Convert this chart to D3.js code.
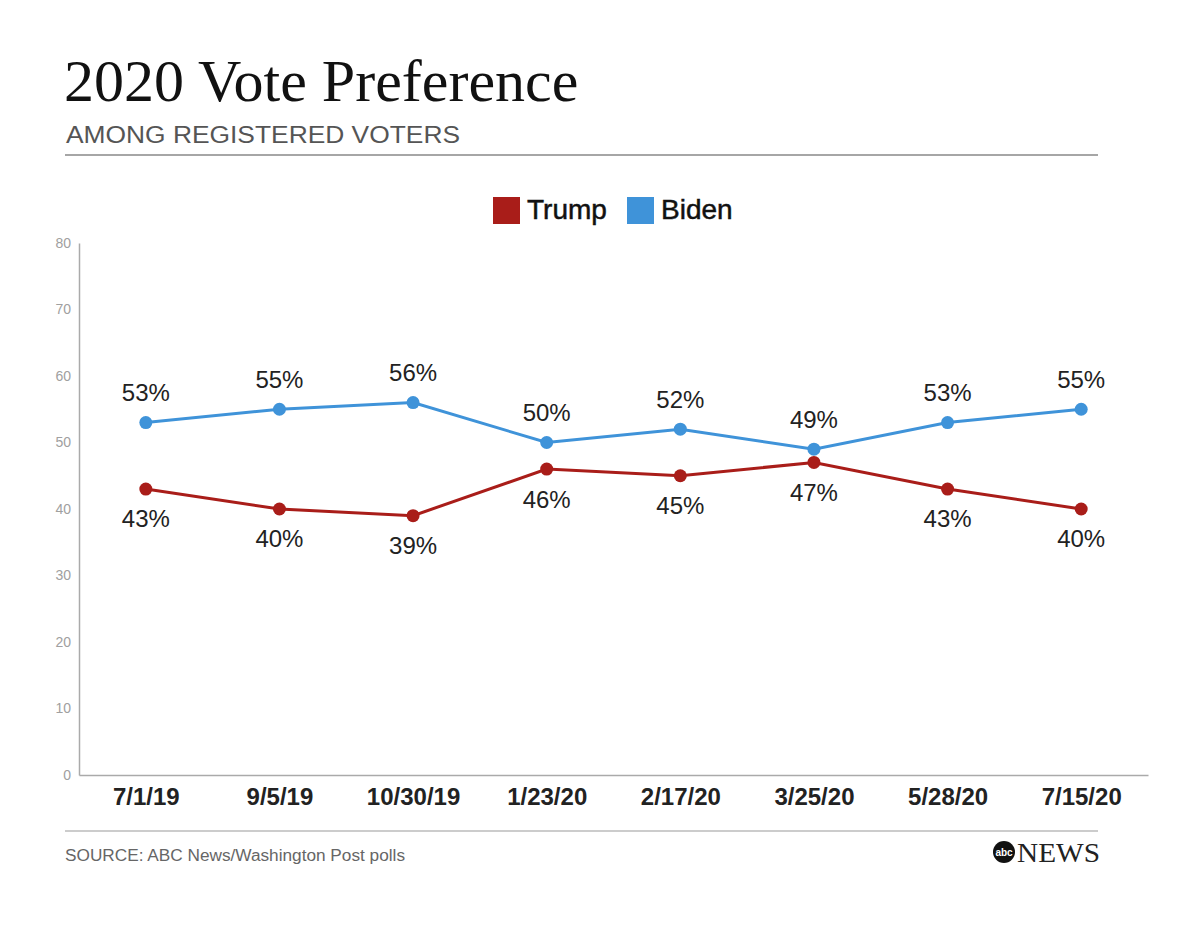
<!DOCTYPE html>
<html>
<head>
<meta charset="utf-8">
<script src="https://cdn.jsdelivr.net/npm/d3@7"></script>
<style>
  body { margin: 0; background: #fff; }
</style>
</head>
<body>
<script>
// chart data
var dates = ["7/1/19", "9/5/19", "10/30/19", "1/23/20", "2/17/20", "3/25/20", "5/28/20", "7/15/20"];
var trump = [43, 40, 39, 46, 45, 47, 43, 40];
var biden = [53, 55, 56, 50, 52, 49, 53, 55];
var yTicks = [0, 10, 20, 30, 40, 50, 60, 70, 80];

var W = 1199;
var H = 931;
var RED = "#a91d19";
var BLUE = "#3f93d9";
var SANS = "Liberation Sans, Arial, sans-serif";

var svg = d3.select("body").append("svg")
  .attr("width", W)
  .attr("height", H);

// title block
svg.append("text")
  .attr("x", 64).attr("y", 101)
  .attr("font-family", "Liberation Serif, Times New Roman, serif")
  .attr("font-size", 60)
  .attr("fill", "#111")
  .text("2020 Vote Preference");

svg.append("text")
  .attr("x", 66).attr("y", 143)
  .attr("font-family", SANS)
  .attr("font-size", 23)
  .attr("textLength", 394)
  .attr("lengthAdjust", "spacingAndGlyphs")
  .attr("fill", "#555")
  .text("AMONG REGISTERED VOTERS");

svg.append("line")
  .attr("x1", 65).attr("x2", 1098)
  .attr("y1", 155).attr("y2", 155)
  .attr("stroke", "#888").attr("stroke-width", 1.5);

// legend
var legend = [{name: "Trump", color: RED, x: 493}, {name: "Biden", color: BLUE, x: 627}];
var lg = svg.selectAll(".legend").data(legend).enter().append("g")
  .attr("class", "legend")
  .attr("transform", function(d) { return "translate(" + d.x + ",197)"; });
lg.append("rect")
  .attr("width", 27).attr("height", 27)
  .attr("fill", function(d) { return d.color; });
lg.append("text")
  .attr("x", 34).attr("y", 22)
  .attr("font-family", SANS)
  .attr("font-size", 28)
  .attr("fill", "#111")
  .attr("stroke", "#111").attr("stroke-width", 0.5)
  .text(function(d) { return d.name; });

// scales
var xScale = d3.scalePoint()
  .domain(dates)
  .range([79, 1148])
  .padding(0.5);
var yScale = d3.scaleLinear()
  .domain([0, 80])
  .range([775, 243]);

// y axis
var yAxis = d3.axisLeft(yScale).tickValues(yTicks).tickSize(0).tickPadding(8);
var gy = svg.append("g")
  .attr("transform", "translate(79,0)")
  .call(yAxis);
gy.select(".domain").attr("stroke", "#aaa").attr("stroke-width", 1.5);
gy.selectAll("text")
  .attr("font-family", SANS)
  .attr("font-size", 14)
  .attr("fill", "#a0a0a0");

// x axis
var xAxis = d3.axisBottom(xScale).tickSize(0).tickPadding(13).tickSizeOuter(0);
var gx = svg.append("g")
  .attr("transform", "translate(0,775)")
  .call(xAxis);
gx.select(".domain").attr("stroke", "#aaa").attr("stroke-width", 1.5);
gx.selectAll("text")
  .attr("font-family", SANS)
  .attr("font-size", 24)
  .attr("font-weight", "bold")
  .attr("fill", "#222");

// series
var series = [
  {name: "Biden", values: biden, color: BLUE, dy: -30},
  {name: "Trump", values: trump, color: RED, dy: 30}
];

var line = d3.line()
  .x(function(d, i) { return xScale(dates[i]); })
  .y(function(d) { return yScale(d); });

series.forEach(function(s) {
  svg.append("path")
    .datum(s.values)
    .attr("d", line)
    .attr("fill", "none")
    .attr("stroke", s.color)
    .attr("stroke-width", 3);

  svg.selectAll(".dot-" + s.name)
    .data(s.values)
    .enter().append("circle")
    .attr("cx", function(d, i) { return xScale(dates[i]); })
    .attr("cy", function(d) { return yScale(d); })
    .attr("r", 6.5)
    .attr("fill", s.color);

  svg.selectAll(".lab-" + s.name)
    .data(s.values)
    .enter().append("text")
    .attr("x", function(d, i) { return xScale(dates[i]); })
    .attr("y", function(d) { return yScale(d) + s.dy; })
    .attr("dy", "0.35em")
    .attr("text-anchor", "middle")
    .attr("font-family", SANS)
    .attr("font-size", 24)
    .attr("fill", "#222")
    .text(function(d) { return d + "%"; });
});

// footer
svg.append("line")
  .attr("x1", 65).attr("x2", 1098)
  .attr("y1", 831).attr("y2", 831)
  .attr("stroke", "#bbb").attr("stroke-width", 1.5);

svg.append("text")
  .attr("x", 65).attr("y", 861)
  .attr("font-family", SANS)
  .attr("font-size", 16)
  .attr("textLength", 340)
  .attr("lengthAdjust", "spacingAndGlyphs")
  .attr("fill", "#666")
  .text("SOURCE: ABC News/Washington Post polls");

// abc news logo
svg.append("circle")
  .attr("cx", 1004).attr("cy", 852).attr("r", 11)
  .attr("fill", "#111");
svg.append("text")
  .attr("x", 1004).attr("y", 856)
  .attr("text-anchor", "middle")
  .attr("font-family", SANS)
  .attr("font-weight", "bold")
  .attr("font-size", 10)
  .attr("fill", "#fff")
  .text("abc");
svg.append("text")
  .attr("x", 1017).attr("y", 862)
  .attr("font-family", "Liberation Serif, Times New Roman, serif")
  .attr("font-size", 27)
  .attr("textLength", 83)
  .attr("lengthAdjust", "spacingAndGlyphs")
  .attr("fill", "#222")
  .text("NEWS");
</script>
</body>
</html>
